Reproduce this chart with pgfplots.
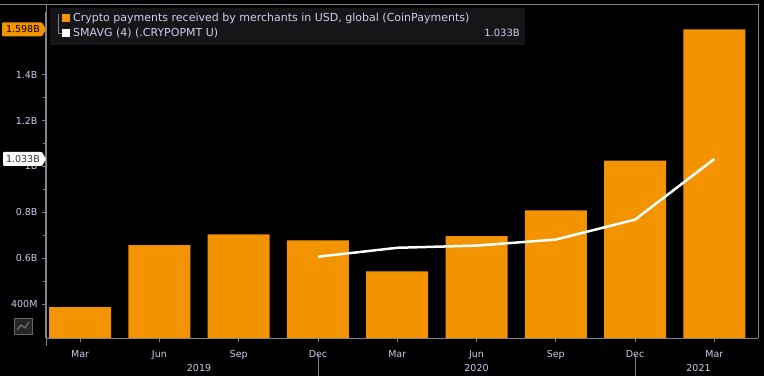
\documentclass[border=0pt]{standalone}
\usepackage{pgfplots}
\pgfplotsset{compat=1.18}
\usepackage{fontspec}
\setmainfont{DejaVu Sans}
\definecolor{borange}{RGB}{243,147,0}
\definecolor{labcol}{RGB}{205,205,238}
\definecolor{framecol}{RGB}{130,130,140}
\definecolor{legbg}{RGB}{22,22,24}
\begin{document}
\begin{tikzpicture}[x=1pt,y=1pt]
\fill[black] (0,0) rectangle (764,376);
\useasboundingbox (0,0) rectangle (764,376);
% frame lines
\draw[framecol, line width=1pt] (0,371) -- (758,371) -- (758,38);
\draw[framecol, line width=1pt] (46,371) -- (46,30);
% legend box
\fill[legbg] (50,331) rectangle (525,368);
\begin{axis}[
  at={(46pt,38pt)}, anchor=south west,
  scale only axis, width=712pt, height=326pt,
  xmin=-0.43, xmax=8.55, ymin=0.252, ymax=1.674,
  axis x line*=bottom, axis y line*=left,
  axis line style={framecol, line width=1pt},
  xtick={0,...,8},
  xticklabels={Mar,Jun,Sep,Dec,Mar,Jun,Sep,Dec,Mar},
  ytick={0.4,0.6,0.8,1.0,1.2,1.4},
  yticklabels={400M,0.6B,0.8B,1B,1.2B,1.4B},
  minor y tick num=1,
  tick align=outside,
  major tick length=4pt, minor tick length=3pt,
  tick style={framecol, line width=0.8pt},
  ticklabel style={font=\fontsize{9.5}{11}\selectfont, text=labcol},
  xticklabel style={yshift=-5pt},
  yticklabel style={xshift=-1pt},
  clip=true,
]
\addplot[ybar, bar width=62pt, fill=borange, draw=none] coordinates {
  (0,0.387) (1,0.657) (2,0.704) (3,0.678) (4,0.543) (5,0.696) (6,0.809) (7,1.026) (8,1.598)};
\addplot[white, line width=2.5pt, mark=none] coordinates {
  (3,0.6065) (4,0.6455) (5,0.655) (6,0.6815) (7,0.7685) (8,1.033)};
\coordinate (tagA) at (axis cs:-0.43,1.598);
\coordinate (tagB) at (axis cs:-0.43,1.033);
\coordinate (y19) at (axis cs:1.5,0.252);
\coordinate (y20) at (axis cs:5,0.252);
\coordinate (y21) at (axis cs:7.8,0.252);
\coordinate (s1) at (axis cs:3,0.252);
\coordinate (s2) at (axis cs:7,0.252);
\end{axis}
% year labels and separators
\foreach \c/\t in {y19/2019,y20/2020,y21/2021}
  \node[text=labcol, font=\fontsize{9.5}{11}\selectfont] at ([yshift=-30pt]\c) {\t};
\draw[framecol, line width=0.8pt] ([yshift=-17pt]s1) -- ([yshift=-38pt]s1);
\draw[framecol, line width=0.8pt] ([yshift=-17pt]s2) -- ([yshift=-38pt]s2);
% value tags
\fill[borange, rounded corners=1pt] ([xshift=-44pt,yshift=-7pt]tagA) -- ([xshift=-4pt,yshift=-7pt]tagA) -- ([xshift=0pt]tagA) -- ([xshift=-4pt,yshift=7pt]tagA) -- ([xshift=-44pt,yshift=7pt]tagA) -- cycle;
\node[text=black, font=\fontsize{9.5}{11}\selectfont, anchor=east, inner sep=0pt] at ([xshift=-6pt]tagA) {1.598B};
\fill[white, rounded corners=1pt] ([xshift=-43pt,yshift=-7pt]tagB) -- ([xshift=-4pt,yshift=-7pt]tagB) -- ([xshift=0pt]tagB) -- ([xshift=-4pt,yshift=7pt]tagB) -- ([xshift=-43pt,yshift=7pt]tagB) -- cycle;
\node[text=black!80, font=\fontsize{9.5}{11}\selectfont, anchor=east, inner sep=0pt] at ([xshift=-6pt]tagB) {1.033B};
% legend contents
\draw[framecol] (58,362) -- (58,343) -- (62,343);
\fill[borange] (62,354) rectangle (70,362);
\fill[white] (62,339) rectangle (70,347);
\node[anchor=west, text=labcol, font=\fontsize{11}{13}\selectfont, inner sep=0pt] at (73,358) {Crypto payments received by merchants in USD, global (CoinPayments)};
\node[anchor=west, text=labcol, font=\fontsize{11}{13}\selectfont, inner sep=0pt] at (73,343) {SMAVG (4) (.CRYPOPMT U)};
\node[anchor=east, text=labcol, font=\fontsize{10}{12}\selectfont, inner sep=0pt] at (520,343) {1.033B};
% small chart icon
\draw[black!60, fill=black!85] (14,42) rectangle (32,58);
\draw[black!45, line width=0.8pt] (17,46) -- (21,51) -- (25,48) -- (29,54);
\end{tikzpicture}
\end{document}
